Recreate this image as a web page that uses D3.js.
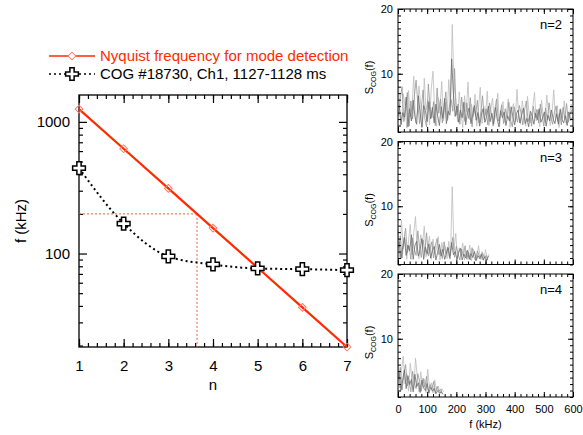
<!DOCTYPE html>
<html>
<head>
<meta charset="utf-8">
<script src="https://cdn.jsdelivr.net/npm/d3@7"></script>
<style>
    body { margin: 0; background: #fff; }
    svg { font-family: "Liberation Sans", Arial, Helvetica, sans-serif; }
</style>
</head>
<body>
<div id="chart"></div>
<script>

// --- mode detection data (frequencies in kHz) ---
const modeNumbers = [1, 2, 3, 4, 5, 6, 7];
const nyquistFreq = [1250, 625, 312.5, 156, 78, 39, 19.5];
const cogFreq = [446, 169, 95, 82.6, 77, 76.1, 74.8];
const detectFreq = 200;

const nTicks = [1, 2, 3, 4, 5, 6, 7];
const fMajorTicks = [100, 1000];
const fMinorTicks = [20, 30, 40, 50, 60, 70, 80, 90, 200, 300, 400, 500, 600, 700, 800, 900];

const legendLabels = ["Nyquist frequency for mode detection", "COG #18730, Ch1, 1127-1128 ms"];

// --- spectra S_COG(f) ---
// three overlaid traces per panel (light, mid, dark), one value every 6 kHz,
// starting at 0, 2 and 4 kHz
const specStep = 6;
const specOffsets = [0, 2, 4];
const specColors = ["#bdbdbd", "#969696", "#6a6a6a"];
const panelLabels = ["n=2", "n=3", "n=4"];
const specFreqTicks = [0, 100, 200, 300, 400, 500, 600];
const specValueTicks = [10, 20];

// n=2
const specN2Light = [
    9.8, 4.6, 2.2, 6.9, 5.1, 1.6, 7.4, 3.3, 4.8, 9.6,
    2.4, 3.9, 8.1, 5.2, 1.8, 9.3, 4.4, 6.0, 2.1, 7.7,
    10.4, 3.6, 1.9, 6.3, 4.9, 8.8, 2.7, 5.6, 3.1, 9.1,
    4.0, 17.6, 8.4, 5.9, 2.6, 7.2, 3.8, 1.7, 6.6, 4.1,
    8.7, 2.9, 5.3, 3.4, 6.8, 1.9, 4.7, 7.9, 2.3, 5.0,
    3.6, 7.3, 2.0, 4.5, 6.2, 2.8, 3.7, 7.0, 1.8, 4.9,
    5.7, 2.5, 3.9, 6.1, 1.7, 4.3, 5.4, 2.6, 7.6, 3.2,
    2.2, 5.8, 4.0, 1.9, 6.5, 3.5, 2.4, 4.8, 7.1, 2.7,
    4.4, 1.8, 5.9, 3.3, 2.5, 6.7, 4.1, 2.0, 3.8, 7.5,
    2.9, 5.1, 1.7, 4.6, 3.0, 5.8, 2.3, 4.2, 3.6, 5.3,
    2.8
];
const specN2Mid = [
    3.5, 6.2, 8.0, 2.6, 4.4, 7.1, 1.9, 5.8, 3.0, 6.5,
    9.0, 5.4, 2.3, 4.7, 7.5, 3.1, 1.8, 8.4, 4.9, 3.2,
    5.7, 2.0, 7.8, 3.9, 6.1, 2.4, 4.6, 7.2, 2.8, 5.0,
    6.0, 4.2, 10.8, 3.6, 5.3, 2.2, 6.4, 4.0, 2.6, 5.5,
    3.1, 6.3, 1.8, 4.8, 3.5, 5.9, 2.4, 4.1, 6.6, 2.9,
    4.6, 2.1, 5.5, 3.8, 1.9, 4.4, 6.1, 2.7, 3.4, 5.2,
    2.3, 4.6, 3.1, 5.6, 2.8, 1.8, 4.9, 3.6, 2.5, 5.1,
    3.9, 2.1, 4.4, 5.8, 2.6, 3.7, 1.9, 5.0, 3.2, 4.5,
    2.4, 5.3, 3.6, 1.9, 4.7, 2.8, 5.5, 3.3, 2.2, 4.0,
    5.0, 2.6, 3.9, 2.1, 4.8, 3.1, 5.4, 2.5, 3.7, 4.4
];
const specN2Dark = [
    5.2, 2.1, 4.0, 3.3, 6.4, 1.8, 4.6, 2.7, 5.9, 3.4,
    2.2, 6.6, 3.8, 1.7, 5.1, 4.3, 2.6, 5.7, 3.0, 4.8,
    2.4, 5.3, 3.5, 2.0, 4.9, 3.1, 6.2, 2.3, 4.2, 3.6,
    12.3, 6.8, 3.4, 5.0, 2.5, 4.4, 3.2, 5.6, 2.1, 3.9,
    4.7, 2.3, 3.6, 5.1, 2.8, 4.0, 1.9, 3.7, 4.6, 2.5,
    3.4, 5.0, 2.6, 3.9, 2.2, 4.8, 3.0, 1.8, 4.3, 3.2,
    4.1, 2.0, 3.5, 2.7, 4.9, 3.3, 2.1, 3.8, 4.4, 2.4,
    3.6, 4.7, 2.3, 3.1, 1.8, 4.2, 3.5, 2.2, 3.9, 2.9,
    4.6, 2.5, 3.2, 4.1, 1.9, 3.6, 2.7, 4.4, 3.0, 2.3,
    3.8, 2.2, 4.5, 3.0, 2.4, 3.5, 2.0, 4.1, 2.8, 3.3
];

// n=3
const specN3Light = [
    6.5, 2.1, 7.8, 3.4, 5.0, 1.8, 4.6, 7.2, 2.5, 6.0,
    8.4, 3.0, 1.9, 5.6, 4.1, 6.9, 2.2, 3.7, 5.4, 1.8,
    4.9, 2.6, 3.5, 5.3, 1.7, 4.4, 2.9, 3.8, 1.9, 4.6,
    2.3, 13.0, 3.2, 5.8, 1.8, 3.6, 2.4, 4.3, 1.7, 3.1,
    2.2, 4.0, 1.6, 3.4, 2.7, 1.8, 3.9, 2.1, 3.0, 1.6,
    3.3, 1.9, 2.6
];
const specN3Mid = [
    3.6, 5.4, 2.0, 4.7, 6.6, 2.8, 3.9, 1.8, 5.1, 3.3,
    2.4, 6.2, 3.5, 2.1, 4.8, 2.9, 5.9, 2.3, 3.4, 4.5,
    2.0, 3.9, 5.0, 2.5, 3.3, 1.9, 4.5, 2.6, 3.7, 2.2,
    3.5, 5.2, 2.1, 3.8, 2.6, 1.7, 3.4, 2.3, 3.9, 1.8,
    2.9, 1.7, 3.6, 2.2, 1.6, 3.1, 2.4, 1.8, 2.8, 2.0,
    2.4, 1.7
];
const specN3Dark = [
    4.5, 1.9, 3.6, 5.2, 2.4, 4.0, 3.1, 5.6, 1.8, 3.9,
    4.6, 2.3, 3.3, 5.0, 1.8, 3.7, 2.6, 4.2, 2.0, 3.1,
    3.8, 1.7, 2.9, 4.1, 2.3, 3.4, 1.8, 2.7, 3.6, 1.9,
    4.4, 2.5, 3.0, 1.8, 2.9, 3.5, 1.7, 2.6, 2.0, 3.2,
    1.8, 2.7, 2.1, 3.0, 1.6, 2.4, 1.9, 2.6, 1.7, 2.2,
    1.6, 2.3
];

// n=4
const specN4Light = [
    6.8, 2.4, 5.1, 7.3, 3.0, 4.6, 1.9, 6.2, 3.6, 2.2,
    7.0, 4.1, 1.8, 4.9, 2.6, 3.8, 1.7, 5.3, 2.4, 3.2,
    1.6, 3.6, 2.0, 2.7, 1.5, 2.3, 1.8
];
const specN4Mid = [
    3.9, 5.6, 2.1, 4.4, 6.0, 2.7, 3.5, 1.8, 5.0, 3.1,
    2.3, 4.6, 3.4, 1.9, 3.9, 2.5, 4.2, 1.7, 2.9, 2.2,
    3.4, 1.6, 2.6, 1.9, 2.2, 1.5
];
const specN4Dark = [
    4.7, 2.0, 3.6, 5.2, 2.3, 4.3, 2.9, 3.7, 1.8, 4.5,
    2.6, 3.2, 1.7, 3.6, 2.4, 2.0, 3.1, 1.6, 2.5, 1.9,
    2.3, 1.5, 2.0, 1.6, 1.8, 1.4
];


/*
 * ModePlot - detection frequency versus mode number (log f axis)
 */
class ModePlot {
    constructor(svg) {
        this.svg = svg;
        this.initVis();
    }

    initVis() {
        let vis = this;

        vis.margin = {top: 95, left: 79};
        vis.width = 268;
        vis.height = 252;

        vis.g = vis.svg.append("g")
            .attr("transform", "translate(" + vis.margin.left + "," + vis.margin.top + ")");

        vis.x = d3.scaleLinear().domain([1, 7]).range([0, vis.width]);
        vis.y = d3.scaleLog().domain([19.5, 1600]).range([vis.height, 0]);

        vis.nyquist = modeNumbers.map((n, i) => ({n: n, f: nyquistFreq[i]}));
        vis.cog = modeNumbers.map((n, i) => ({n: n, f: cogFreq[i]}));

        // mode number where the Nyquist line crosses the detection limit (log interpolation)
        let i = nyquistFreq.findIndex(f => f < detectFreq);
        vis.detectN = modeNumbers[i - 1] +
            Math.log(nyquistFreq[i - 1] / detectFreq) / Math.log(nyquistFreq[i - 1] / nyquistFreq[i]);

        vis.drawAxes();
        vis.updateVis();
        vis.drawLegend();
    }

    drawAxes() {
        let vis = this;
        let nMinor = d3.range(1, 7.001, 0.2);

        // minor ticks on all four sides
        vis.g.append("g").attr("class", "axis")
            .attr("transform", "translate(0," + vis.height + ")")
            .call(d3.axisBottom(vis.x).tickValues(nMinor).tickSize(-4).tickFormat(""));
        vis.g.append("g").attr("class", "axis")
            .call(d3.axisTop(vis.x).tickValues(nMinor).tickSize(-4).tickFormat(""));
        vis.g.append("g").attr("class", "axis")
            .call(d3.axisLeft(vis.y).tickValues(fMinorTicks).tickSize(-4).tickFormat(""));
        vis.g.append("g").attr("class", "axis")
            .attr("transform", "translate(" + vis.width + ",0)")
            .call(d3.axisRight(vis.y).tickValues(fMinorTicks).tickSize(-4).tickFormat(""));

        // major ticks + labels
        vis.g.append("g").attr("class", "axis label")
            .attr("transform", "translate(0," + vis.height + ")")
            .call(d3.axisBottom(vis.x).tickValues(nTicks).tickSize(-8).tickPadding(13).tickFormat(d3.format("d")));
        vis.g.append("g").attr("class", "axis")
            .call(d3.axisTop(vis.x).tickValues(nTicks).tickSize(-8).tickFormat(""));
        vis.g.append("g").attr("class", "axis label")
            .call(d3.axisLeft(vis.y).tickValues(fMajorTicks).tickSize(-8).tickPadding(9).tickFormat(d3.format("d")));
        vis.g.append("g").attr("class", "axis")
            .attr("transform", "translate(" + vis.width + ",0)")
            .call(d3.axisRight(vis.y).tickValues(fMajorTicks).tickSize(-8).tickFormat(""));

        vis.g.selectAll(".axis .domain").remove();
        vis.g.selectAll(".axis line").attr("stroke", "#000").attr("stroke-width", 1.2);
        vis.g.selectAll(".label text")
            .attr("font-family", null)
            .attr("font-size", 15)
            .attr("fill", "#000");

        // frame
        vis.g.append("rect")
            .attr("width", vis.width)
            .attr("height", vis.height)
            .attr("fill", "none")
            .attr("stroke", "#000")
            .attr("stroke-width", 1.3);

        // axis titles
        vis.g.append("text")
            .attr("x", vis.width / 2)
            .attr("y", vis.height + 43)
            .attr("text-anchor", "middle")
            .attr("font-size", 15)
            .text("n");

        vis.g.append("text")
            .attr("transform", "translate(-53," + (vis.height / 2) + ") rotate(-90)")
            .attr("text-anchor", "middle")
            .attr("font-size", 15)
            .text("f (kHz)");
    }

    updateVis() {
        let vis = this;

        // detection limit guide lines
        vis.g.append("line")
            .attr("x1", vis.x(1)).attr("x2", vis.x(vis.detectN))
            .attr("y1", vis.y(detectFreq)).attr("y2", vis.y(detectFreq))
            .attr("stroke", "#ff5a3c").attr("stroke-width", 1)
            .attr("stroke-dasharray", "2,2");
        vis.g.append("line")
            .attr("x1", vis.x(vis.detectN)).attr("x2", vis.x(vis.detectN))
            .attr("y1", vis.y(detectFreq)).attr("y2", vis.height)
            .attr("stroke", "#ff5a3c").attr("stroke-width", 1)
            .attr("stroke-dasharray", "2,2");

        let line = d3.line().x(d => vis.x(d.n)).y(d => vis.y(d.f));

        // Nyquist line
        vis.g.append("path")
            .datum(vis.nyquist)
            .attr("d", line)
            .attr("fill", "none")
            .attr("stroke", "#ff2a00")
            .attr("stroke-width", 2.2);

        vis.g.selectAll(".diamond")
            .data(vis.nyquist)
            .enter()
            .append("path")
            .attr("class", "diamond")
            .attr("transform", d => "translate(" + vis.x(d.n) + "," + vis.y(d.f) + ") rotate(45)")
            .attr("d", d3.symbol().type(d3.symbolSquare).size(30))
            .attr("fill", "none")
            .attr("stroke", "#ff7a66")
            .attr("stroke-width", 1);

        // COG measured frequencies
        vis.g.append("path")
            .datum(vis.cog)
            .attr("d", line.curve(d3.curveMonotoneX))
            .attr("fill", "none")
            .attr("stroke", "#000")
            .attr("stroke-width", 2)
            .attr("stroke-dasharray", "2,3");

        vis.g.selectAll(".cross")
            .data(vis.cog)
            .enter()
            .append("path")
            .attr("class", "cross")
            .attr("transform", d => "translate(" + vis.x(d.n) + "," + vis.y(d.f) + ")")
            .attr("d", d3.symbol().type(d3.symbolCross).size(90))
            .attr("fill", "#fff")
            .attr("stroke", "#000")
            .attr("stroke-width", 1.5);
    }

    drawLegend() {
        let vis = this;
        let lg = vis.svg.append("g").attr("class", "legend");

        lg.append("line")
            .attr("x1", 49).attr("x2", 95).attr("y1", 56).attr("y2", 56)
            .attr("stroke", "#ff2a00").attr("stroke-width", 1.5);
        lg.append("path")
            .attr("transform", "translate(72,56) rotate(45)")
            .attr("d", d3.symbol().type(d3.symbolSquare).size(30))
            .attr("fill", "#fff").attr("stroke", "#ff7a66");
        lg.append("text")
            .attr("x", 100).attr("y", 61)
            .attr("font-size", 15)
            .attr("fill", "#ff2a00")
            .text(legendLabels[0]);

        lg.append("line")
            .attr("x1", 49).attr("x2", 95).attr("y1", 74).attr("y2", 74)
            .attr("stroke", "#000").attr("stroke-width", 1.5)
            .attr("stroke-dasharray", "2,3");
        lg.append("path")
            .attr("transform", "translate(72,74)")
            .attr("d", d3.symbol().type(d3.symbolCross).size(90))
            .attr("fill", "#fff").attr("stroke", "#000").attr("stroke-width", 1.5);
        lg.append("text")
            .attr("x", 100).attr("y", 79)
            .attr("font-size", 15)
            .attr("fill", "#000")
            .text(legendLabels[1]);
    }
}


/*
 * SpectrumPanel - one S_COG(f) panel on the right
 * @param traces -- list of value arrays (light, mid, dark)
 */
class SpectrumPanel {
    constructor(svg, top, traces, label, showFreqLabels) {
        this.svg = svg;
        this.top = top;
        this.traces = traces;
        this.label = label;
        this.showFreqLabels = showFreqLabels;
        this.initVis();
    }

    initVis() {
        let vis = this;

        vis.left = 398;
        vis.width = 175;
        vis.height = 123;

        vis.g = vis.svg.append("g")
            .attr("transform", "translate(" + vis.left + "," + vis.top + ")");

        vis.x = d3.scaleLinear().domain([0, 600]).range([0, vis.width]);
        vis.y = d3.scaleLinear().domain([1, 20]).range([vis.height, 0]);

        vis.wrangleData();
    }

    wrangleData() {
        let vis = this;
        vis.displayData = vis.traces.map((vals, k) =>
            vals.map((v, i) => ({f: specOffsets[k] + i * specStep, s: v})));
        vis.updateVis();
    }

    updateVis() {
        let vis = this;

        let line = d3.line().x(d => vis.x(d.f)).y(d => vis.y(d.s));

        vis.g.selectAll(".trace")
            .data(vis.displayData)
            .enter()
            .append("path")
            .attr("class", "trace")
            .attr("d", line)
            .attr("fill", "none")
            .attr("stroke", (d, k) => specColors[k])
            .attr("stroke-width", 0.8);

        // ticks
        let fMinor = d3.range(0, 601, 20);
        let sMinor = d3.range(1, 21, 1);

        vis.g.append("g").attr("class", "axis")
            .attr("transform", "translate(0," + vis.height + ")")
            .call(d3.axisBottom(vis.x).tickValues(fMinor).tickSize(-3).tickFormat(""));
        vis.g.append("g").attr("class", "axis")
            .call(d3.axisTop(vis.x).tickValues(fMinor).tickSize(-3).tickFormat(""));
        vis.g.append("g").attr("class", "axis")
            .call(d3.axisLeft(vis.y).tickValues(sMinor).tickSize(-3).tickFormat(""));
        vis.g.append("g").attr("class", "axis")
            .attr("transform", "translate(" + vis.width + ",0)")
            .call(d3.axisRight(vis.y).tickValues(sMinor).tickSize(-3).tickFormat(""));

        vis.g.append("g").attr("class", "axis label")
            .attr("transform", "translate(0," + vis.height + ")")
            .call(d3.axisBottom(vis.x).tickValues(specFreqTicks).tickSize(-5).tickPadding(8)
                .tickFormat(vis.showFreqLabels ? d3.format("d") : ""));
        vis.g.append("g").attr("class", "axis")
            .call(d3.axisTop(vis.x).tickValues(specFreqTicks).tickSize(-5).tickFormat(""));
        vis.g.append("g").attr("class", "axis label")
            .call(d3.axisLeft(vis.y).tickValues(specValueTicks).tickSize(-5).tickPadding(5).tickFormat(d3.format("d")));
        vis.g.append("g").attr("class", "axis")
            .attr("transform", "translate(" + vis.width + ",0)")
            .call(d3.axisRight(vis.y).tickValues(specValueTicks).tickSize(-5).tickFormat(""));

        vis.g.selectAll(".axis .domain").remove();
        vis.g.selectAll(".axis line").attr("stroke", "#000").attr("stroke-width", 1);
        vis.g.selectAll(".label text")
            .attr("font-family", null)
            .attr("font-size", 11)
            .attr("fill", "#000");

        vis.g.append("rect")
            .attr("width", vis.width)
            .attr("height", vis.height)
            .attr("fill", "none")
            .attr("stroke", "#000")
            .attr("stroke-width", 1);

        // panel label
        vis.g.append("text")
            .attr("x", vis.width - 11)
            .attr("y", 20)
            .attr("text-anchor", "end")
            .attr("font-size", 13)
            .text(vis.label);

        // y title S_COG(f)
        let t = vis.g.append("text")
            .attr("transform", "translate(-25," + (vis.height / 2 + 7) + ") rotate(-90)")
            .attr("text-anchor", "middle")
            .attr("font-size", 11);
        t.append("tspan").text("S");
        t.append("tspan").attr("dy", 3).attr("font-size", 7).text("COG");
        t.append("tspan").attr("dy", -3).text("(f)");

        if (vis.showFreqLabels) {
            vis.g.append("text")
                .attr("x", vis.width / 2)
                .attr("y", vis.height + 31)
                .attr("text-anchor", "middle")
                .attr("font-size", 11)
                .text("f (kHz)");
        }
    }
}


let svg = d3.select("#chart").append("svg")
    .attr("width", 583)
    .attr("height", 435);

new ModePlot(svg);
new SpectrumPanel(svg, 9, [specN2Light, specN2Mid, specN2Dark], panelLabels[0], false);
new SpectrumPanel(svg, 141.5, [specN3Light, specN3Mid, specN3Dark], panelLabels[1], false);
new SpectrumPanel(svg, 274, [specN4Light, specN4Mid, specN4Dark], panelLabels[2], true);

</script>
</body>
</html>
